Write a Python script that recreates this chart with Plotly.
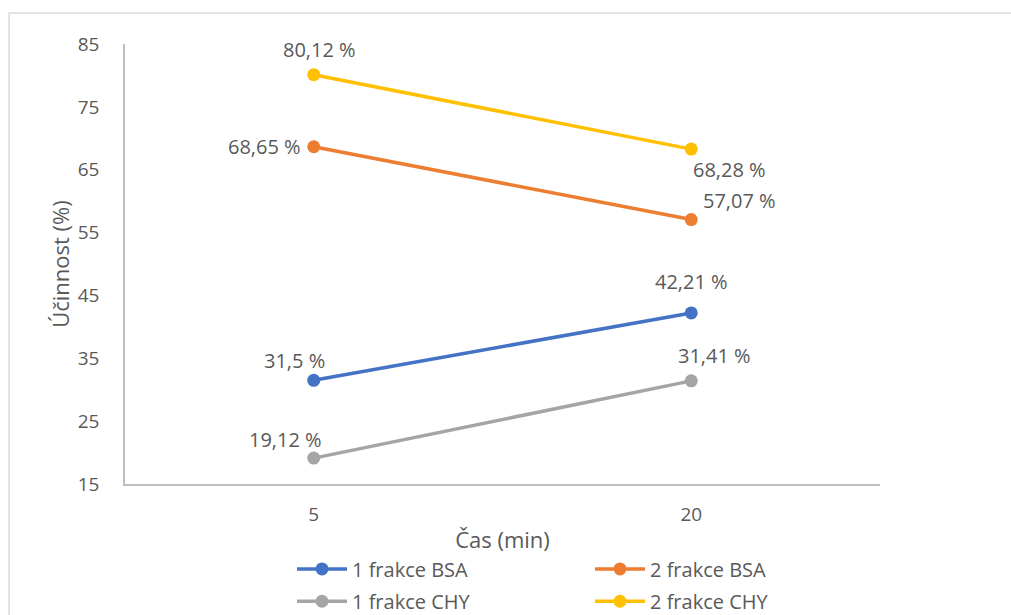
import plotly.graph_objects as go

# Measured efficiency at two time points
categories = ["5", "20"]
series_names = ["1 frakce BSA", "2 frakce BSA", "1 frakce CHY", "2 frakce CHY"]
bsa_1 = [31.5, 42.21]
bsa_2 = [68.65, 57.07]
chy_1 = [19.12, 31.41]
chy_2 = [80.12, 68.28]
y_ticks = [15, 25, 35, 45, 55, 65, 75, 85]

series_values = [bsa_1, bsa_2, chy_1, chy_2]
colors = ["#4472C4", "#ED7D31", "#A5A5A5", "#FFC000"]

# Label placement per series and point: (xanchor, xshift, yshift)
label_offsets = [
    [("center", -19, 20), ("center", 0, 31)],
    [("right", -11, 0), ("left", 10, 19)],
    [("center", -28, 19), ("center", 23, 25)],
    [("center", 6, 25), ("left", 0, -20)],
]

# Legend slots: (legend id, paper x, paper y) -> 2 x 2 grid under the axis
legend_slots = [
    ("legend", 0.2212, -0.193),
    ("legend2", 0.6159, -0.193),
    ("legend3", 0.2212, -0.2665),
    ("legend4", 0.6159, -0.2665),
]

FONT = "'Open Sans', sans-serif"
TEXT = "#595959"
FS_TICK = 19
FS_LABEL = 20
FS_LEGEND = 20
FS_TITLE = 22

fig = go.Figure()
for name, vals, col, slot in zip(series_names, series_values, colors, legend_slots):
    fig.add_trace(go.Scatter(
        x=categories, y=vals, name=name, mode="lines+markers",
        line=dict(color=col, width=3.5),
        marker=dict(color=col, size=13),
        legend=slot[0],
    ))

def fmt(v):
    s = f"{v:.2f}".rstrip("0").rstrip(".")
    return s.replace(".", ",") + " %"

annotations = []
for vals, offs in zip(series_values, label_offsets):
    for i, (v, (xa, xs, ys)) in enumerate(zip(vals, offs)):
        annotations.append(dict(
            x=i, y=v, xref="x", yref="y", text=fmt(v), showarrow=False,
            xanchor=xa, yanchor="middle", xshift=xs, yshift=ys,
            font=dict(family=FONT, size=FS_LABEL, color=TEXT),
        ))

legend_layout = {}
for lid, lx, ly in legend_slots:
    legend_layout[lid] = dict(
        orientation="h", x=lx, xanchor="left", y=ly, yanchor="middle",
        itemwidth=50, bgcolor="rgba(0,0,0,0)",
        font=dict(family=FONT, size=FS_LEGEND, color=TEXT),
    )

fig.update_layout(
    width=1011, height=615,
    margin=dict(l=125, r=131, t=44, b=131, autoexpand=False),
    paper_bgcolor="white", plot_bgcolor="white",
    font=dict(family=FONT, size=FS_TICK, color=TEXT),
    showlegend=True,
    annotations=annotations,
    xaxis=dict(
        type="category", range=[-0.5, 1.5],
        showline=True, linecolor="#BFBFBF", linewidth=1.5,
        showgrid=False, zeroline=False, ticks="", ticklabelstandoff=12,
        tickfont=dict(family=FONT, size=FS_TICK, color=TEXT),
        title=dict(text="Čas (min)", font=dict(family=FONT, size=FS_TITLE, color=TEXT), standoff=7),
    ),
    yaxis=dict(
        range=[15, 85], tickvals=y_ticks,
        showline=True, linecolor="#BFBFBF", linewidth=1.5,
        showgrid=False, zeroline=False, ticks="", ticklabelstandoff=20,
        tickfont=dict(family=FONT, size=FS_TICK, color=TEXT),
        title=dict(text="Účinnost (%)", font=dict(family=FONT, size=FS_TITLE, color=TEXT), standoff=2),
    ),
    shapes=[dict(
        type="rect", xref="paper", yref="paper",
        x0=-0.1536, x1=1.2, y0=-0.35, y1=1.0705,
        line=dict(color="#D9D9D9", width=1.5), layer="below",
    )],
    **legend_layout,
)

fig.write_html("out.html")
